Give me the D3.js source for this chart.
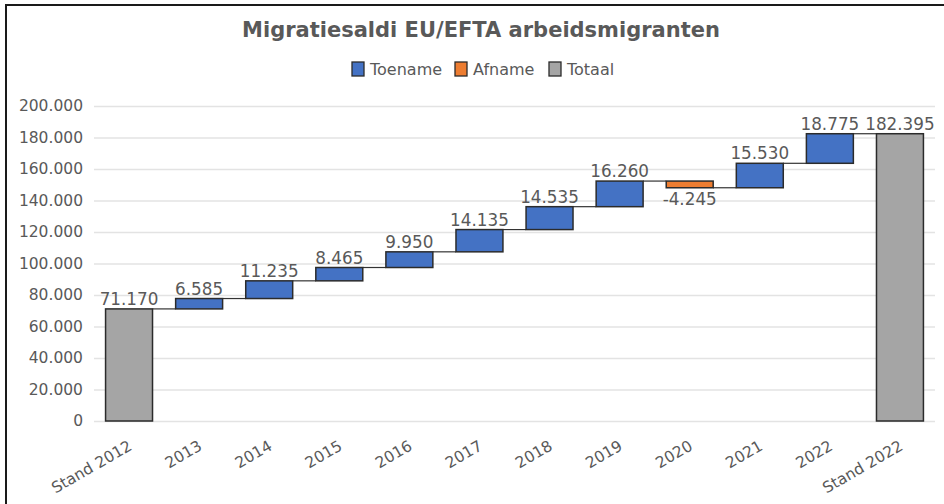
<!DOCTYPE html>
<html>
<head>
<meta charset="utf-8">
<script src="https://cdn.jsdelivr.net/npm/d3@7"></script>
<style>
  body { margin: 0; background: #fff; }
  svg { display: block; font-family: "DejaVu Sans", Verdana, sans-serif; }
  .tick text { fill: #595959; font-size: 15.5px; font-family: "DejaVu Sans", Verdana, sans-serif; }
  .value-label { fill: #595959; font-size: 16.8px; }
  .title { fill: #595959; font-size: 21px; font-weight: bold; }
  .legend-text { fill: #595959; font-size: 16px; }
</style>
</head>
<body>
<svg width="944" height="504"></svg>
<script>
const categories = ["Stand 2012", "2013", "2014", "2015", "2016", "2017", "2018", "2019", "2020", "2021", "2022", "Stand 2022"];
const values = [71170, 6585, 11235, 8465, 9950, 14135, 14535, 16260, -4245, 15530, 18775, 182395];
const isTotal = [true, false, false, false, false, false, false, false, false, false, false, true];
const yTicks = [0, 20000, 40000, 60000, 80000, 100000, 120000, 140000, 160000, 180000, 200000];
const legendItems = ["Toename", "Afname", "Totaal"];

const svg = d3.select("svg");
const width = +svg.attr("width");
const height = +svg.attr("height");

const colors = { Toename: "#4472C4", Afname: "#ED7D31", Totaal: "#A5A5A5" };

// frame: only top and left edges are visible in the picture
svg.append("path")
  .attr("d", `M6,${height} V5 H${width}`)
  .attr("fill", "none")
  .attr("stroke", "#1a1a1a")
  .attr("stroke-width", 2);

const margin = { top: 106, right: 9, bottom: 83, left: 94 };
const innerWidth = width - margin.left - margin.right;
const innerHeight = height - margin.top - margin.bottom;

// build waterfall rows
let running = 0;
const rows = categories.map((c, i) => {
  let start, end, type;
  if (isTotal[i]) {
    start = 0; end = values[i]; type = "Totaal";
    running = values[i];
  } else {
    start = running; end = running + values[i];
    type = values[i] >= 0 ? "Toename" : "Afname";
    running = end;
  }
  return { cat: c, value: values[i], start, end, type };
});

const fmt = v => d3.format(",")(v).replace(/,/g, ".").replace("\u2212", "-");

const xScale = d3.scaleBand()
  .domain(categories)
  .range([0, innerWidth])
  .paddingInner(0.33)
  .paddingOuter(0.165);

const yScale = d3.scaleLinear()
  .domain([0, 200000])
  .range([innerHeight, 0]);

const g = svg.append("g")
  .attr("transform", `translate(${margin.left},${margin.top})`);

const yAxis = d3.axisLeft(yScale)
  .tickValues(yTicks)
  .tickSize(-innerWidth)
  .tickPadding(11)
  .tickFormat(fmt);

const yAxisG = g.append("g").call(yAxis);
yAxisG.select(".domain").remove();
yAxisG.selectAll(".tick line").attr("stroke", "#e3e3e3").attr("stroke-width", 1.5);

const xAxis = d3.axisBottom(xScale).tickSize(0).tickPadding(0);
const xAxisG = g.append("g")
  .attr("transform", `translate(0,${innerHeight})`)
  .call(xAxis);
xAxisG.select(".domain").remove();
xAxisG.selectAll(".tick text")
  .attr("text-anchor", "end")
  .attr("dy", 0)
  .attr("transform", "translate(4,28) rotate(-30)");

// connectors
const bw = xScale.bandwidth();
g.selectAll(".connector")
  .data(rows.slice(0, -1))
  .enter().append("line")
  .attr("x1", d => xScale(d.cat) + bw)
  .attr("x2", (d, i) => xScale(categories[i + 1]))
  .attr("y1", d => yScale(d.end))
  .attr("y2", d => yScale(d.end))
  .attr("stroke", "#333")
  .attr("stroke-width", 1.2);

// bars
g.selectAll(".bar")
  .data(rows)
  .enter().append("rect")
  .attr("x", d => xScale(d.cat))
  .attr("width", bw)
  .attr("y", d => yScale(Math.max(d.start, d.end)))
  .attr("height", d => Math.abs(yScale(d.start) - yScale(d.end)))
  .attr("fill", d => colors[d.type])
  .attr("stroke", "#2b2b2b")
  .attr("stroke-width", 1.5);

// value labels
g.selectAll(".value-label")
  .data(rows)
  .enter().append("text")
  .attr("class", "value-label")
  .attr("x", d => xScale(d.cat) + bw / 2)
  .attr("y", d => d.value >= 0 ? yScale(Math.max(d.start, d.end)) - 4 : yScale(Math.min(d.start, d.end)) + 17)
  .attr("text-anchor", "middle")
  .text(d => fmt(d.value));

// title
svg.append("text")
  .attr("class", "title")
  .attr("x", 481)
  .attr("y", 37)
  .attr("text-anchor", "middle")
  .text("Migratiesaldi EU/EFTA arbeidsmigranten");

// legend
const legendX = [352, 455, 549];
const legend = svg.selectAll(".legend")
  .data(legendItems)
  .enter().append("g")
  .attr("transform", (d, i) => `translate(${legendX[i]},62)`);

legend.append("rect")
  .attr("width", 12).attr("height", 14)
  .attr("fill", d => colors[d])
  .attr("stroke", "#2b2b2b")
  .attr("stroke-width", 1.3);

legend.append("text")
  .attr("class", "legend-text")
  .attr("x", 18)
  .attr("y", 13)
  .text(d => d);
</script>
</body>
</html>
